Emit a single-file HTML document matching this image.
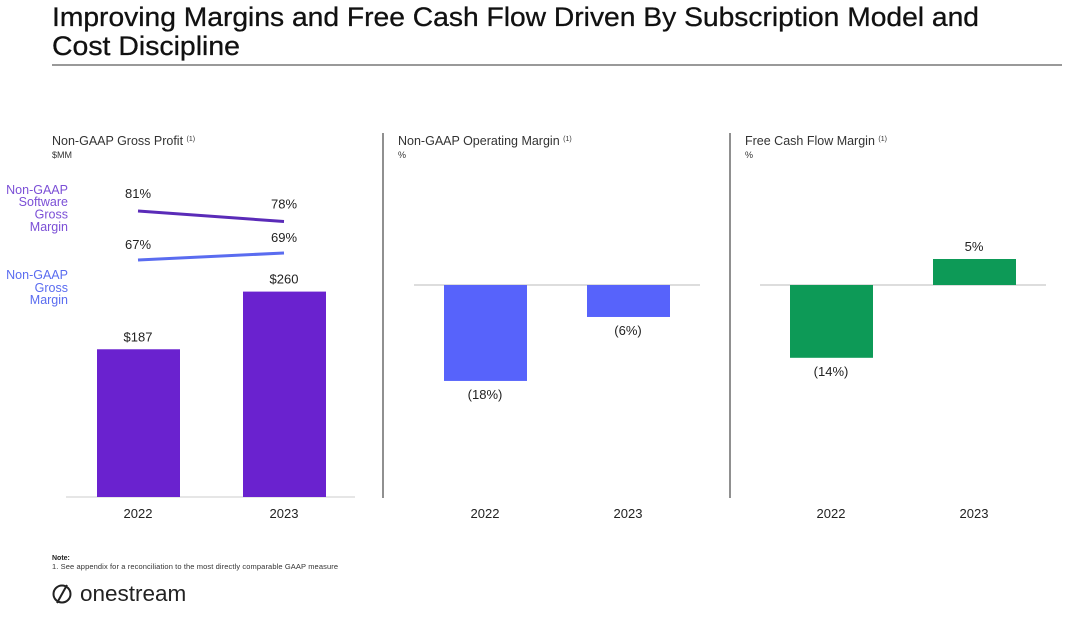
<!DOCTYPE html>
<html><head><meta charset="utf-8"><style>
body{margin:0;background:#fff;width:1080px;height:622px;overflow:hidden;font-family:"Liberation Sans",sans-serif}
svg text{font-family:"Liberation Sans",sans-serif}
</style></head><body>
<svg id="c" width="1080" height="622">
<text x="52" y="26" font-size="27" fill="#111" stroke="#111" stroke-width="0.3" textLength="927" lengthAdjust="spacingAndGlyphs">Improving Margins and Free Cash Flow Driven By Subscription Model and</text>
<text x="52" y="55" font-size="27" fill="#111" stroke="#111" stroke-width="0.3" textLength="188" lengthAdjust="spacingAndGlyphs">Cost Discipline</text>
<line x1="52" y1="65" x2="1062" y2="65" stroke="#333" stroke-width="1"/>
<line x1="383" y1="133" x2="383" y2="498" stroke="#222"/>
<line x1="730" y1="133" x2="730" y2="498" stroke="#222"/>
<text x="52" y="145" font-size="12.5" fill="#333">Non-GAAP Gross Profit <tspan font-size="7" dy="-4">(1)</tspan></text>
<text x="52" y="158" font-size="9" fill="#333">$MM</text>
<text x="398" y="145" font-size="12.5" fill="#333">Non-GAAP Operating Margin <tspan font-size="7" dy="-4">(1)</tspan></text>
<text x="398" y="158" font-size="9" fill="#333">%</text>
<text x="745" y="145" font-size="12.5" fill="#333">Free Cash Flow Margin <tspan font-size="7" dy="-4">(1)</tspan></text>
<text x="745" y="158" font-size="9" fill="#333">%</text>
<g font-size="12.5" fill="#7b4fd6" text-anchor="end">
<text x="68" y="194">Non-GAAP</text><text x="68" y="206">Software</text><text x="68" y="218.5">Gross</text><text x="68" y="231">Margin</text></g>
<g font-size="12.5" fill="#5a6cf0" text-anchor="end">
<text x="68" y="279">Non-GAAP</text><text x="68" y="292">Gross</text><text x="68" y="304">Margin</text></g>
<text x="52" y="560" font-size="7" font-weight="bold" fill="#222">Note:</text>
<text x="52" y="569" font-size="7.5" fill="#333" textLength="286">1.  See appendix for a reconciliation to the most directly comparable GAAP measure</text>
<g>
<circle cx="62" cy="594" r="8.5" fill="none" stroke="#222" stroke-width="2"/>
<line x1="57" y1="603" x2="67" y2="585" stroke="#222" stroke-width="2"/>
<text x="80" y="601" font-size="22.5" fill="#222">onestream</text></g>
</svg>
<script>
const years=["2022","2023"];
const grossProfit=[187,260];
const grossProfitLabels=["$187","$260"];
const softwareMargin=[81,78];
const grossMargin=[67,69];
const opMargin=[-18,-6];
const opLabels=["(18%)","(6%)"];
const fcfMargin=[-14,5];
const fcfLabels=["(14%)","5%"];
const svg=document.getElementById('c');
const NS="http://www.w3.org/2000/svg";
function mk(t,a,txt){const e=document.createElementNS(NS,t);for(const k in a)e.setAttribute(k,a[k]);if(txt!==undefined)e.textContent=txt;svg.appendChild(e);return e;}
const gx=[138,284];
const gy=v=>497-v*0.79;
const my=v=>211+(81-v)*3.5;
let e=mk('line',{x1:66,y1:497,x2:355,y2:497,stroke:'#ccc'});


grossProfit.forEach((v,i)=>{
 e=mk('rect',{x:gx[i]-41,y:gy(v),width:83,height:497-gy(v),fill:'#6a22cf'});
 
 
 e=mk('text',{x:gx[i],y:gy(v)-8,'font-size':13,'text-anchor':'middle',fill:'#222'},grossProfitLabels[i]);
 
 
 e=mk('text',{x:gx[i],y:518,'font-size':13,'text-anchor':'middle',fill:'#222'},years[i]);
 
 
});
[[softwareMargin,'#5a2bb8','software-margin',-13],[grossMargin,'#5a6cf0','gross-margin',-11]].forEach(([arr,col,nm,off])=>{
 e=mk('line',{x1:gx[0],y1:my(arr[0]),x2:gx[1],y2:my(arr[1]),stroke:col,'stroke-width':3});
 
 
 arr.forEach((v,i)=>{
  e=mk('text',{x:gx[i],y:my(v)+off,'font-size':13,'text-anchor':'middle',fill:'#222'},v+'%');
  
  
 });
});
function panel(vals,labels,xs,col,x0,x1,nm,sc){
 const z=285;
 let e=mk('line',{x1:x0,y1:z,x2:x1,y2:z,stroke:'#bbb'});
 
 
 vals.forEach((v,i)=>{
  const y=z-v*sc;
  e=mk('rect',{x:xs[i]-41,y:Math.min(y,z),width:83,height:Math.abs(v*sc),fill:col});
  
  
  e=mk('text',{x:xs[i],y:v<0?y+18:y-8,'font-size':13,'text-anchor':'middle',fill:'#222'},labels[i]);
  
  
  e=mk('text',{x:xs[i],y:518,'font-size':13,'text-anchor':'middle',fill:'#222'},years[i]);
  
  
 });
}
panel(opMargin,opLabels,[485,628],'#5763fb',414,700,'op-margin',5.33);
panel(fcfMargin,fcfLabels,[831,974],'#0d9a57',760,1046,'fcf',5.2);
</script>
</body></html>
